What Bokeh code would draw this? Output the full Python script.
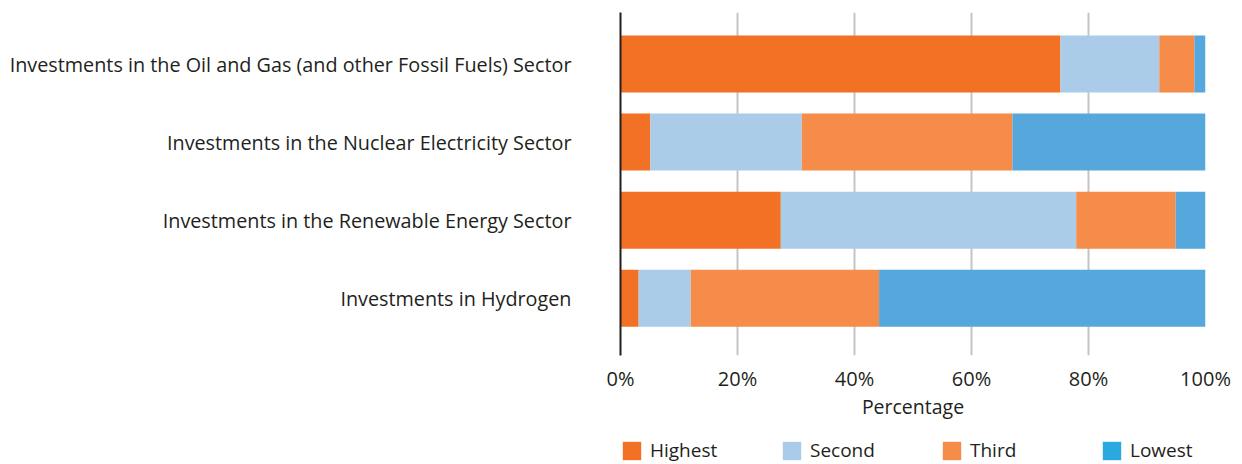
from bokeh.plotting import figure
from bokeh.layouts import column
from bokeh.models import (ColumnDataSource, FixedTicker, Legend, LegendItem,
                          Range1d)
from bokeh.embed import file_html
from bokeh.resources import INLINE

categories = [
    "Investments in the Oil and Gas (and other Fossil Fuels) Sector",
    "Investments in the Nuclear Electricity Sector",
    "Investments in the Renewable Energy Sector",
    "Investments in Hydrogen",
]
series = ["Highest", "Second", "Third", "Lowest"]
highest = [75.2, 5.1, 27.4, 3.1]
second = [16.9, 25.9, 50.5, 8.9]
third = [6.0, 36.0, 17.0, 32.2]
lowest = [1.9, 33.0, 5.1, 55.8]
ticks_x = [0, 20, 40, 60, 80, 100]

bar_colors = ["#F37124", "#AACCE9", "#F58C4A", "#56A7DC"]
legend_colors = ["#F37124", "#AACCE9", "#F58C4A", "#29A9E0"]

FONT = "Open Sans"
TXT = "#231F20"

ypos = [len(categories) - i for i in range(len(categories))]
source = ColumnDataSource(dict(y=ypos, Highest=highest, Second=second,
                               Third=third, Lowest=lowest))

p = figure(width=1242, height=422, output_backend="svg", toolbar_location=None,
           x_range=Range1d(0, 100), y_range=Range1d(0.266, 4.66),
           min_border_left=620, min_border_right=37, min_border_top=12,
           min_border_bottom=66)
p.outline_line_color = None
p.background_fill_color = "white"

p.hbar_stack(series, y="y", height=0.73, color=bar_colors, source=source,
             line_color=None)

# axes
p.xaxis.ticker = FixedTicker(ticks=ticks_x)
p.xaxis.major_label_overrides = {t: f"{t}%" for t in ticks_x}
p.xaxis.axis_line_color = None
p.xaxis.major_tick_line_color = None
p.xaxis.major_tick_out = 0
p.xaxis.major_tick_in = 0
p.xaxis.minor_tick_line_color = None
p.xaxis.major_label_standoff = 9
p.xaxis.major_label_text_font = FONT
p.xaxis.major_label_text_font_size = "20px"
p.xaxis.major_label_text_color = TXT
p.xaxis.axis_label = "Percentage"
p.xaxis.axis_label_text_font = FONT
p.xaxis.axis_label_text_font_size = "19.5px"
p.xaxis.axis_label_text_font_style = "normal"
p.xaxis.axis_label_text_color = TXT
p.xaxis.axis_label_standoff = -2

p.yaxis.ticker = FixedTicker(ticks=ypos)
p.yaxis.major_label_overrides = {y: c for y, c in zip(ypos, categories)}
p.yaxis.axis_line_color = TXT
p.yaxis.axis_line_width = 2
p.yaxis.major_tick_line_color = None
p.yaxis.major_tick_out = 0
p.yaxis.major_tick_in = 0
p.yaxis.minor_tick_line_color = None
p.yaxis.major_label_standoff = 49
p.yaxis.major_label_text_font = FONT
p.yaxis.major_label_text_font_size = "19.8px"
p.yaxis.major_label_text_color = TXT

p.xgrid.grid_line_color = "#C4C4C4"
p.xgrid.grid_line_width = 2
p.ygrid.grid_line_color = None

# legend strip below the chart; its frame starts where the legend starts
lg = figure(width=1242, height=42, output_backend="svg", toolbar_location=None,
            x_range=Range1d(0, 1), y_range=Range1d(0, 1),
            min_border_left=614, min_border_right=0, min_border_top=15,
            min_border_bottom=0)
lg.axis.visible = False
lg.grid.grid_line_color = None
lg.outline_line_color = None
lg.background_fill_alpha = 0

items = []
for name, col in zip(series, legend_colors):
    r = lg.rect(x=[-5], y=[-5], width=1, height=1, fill_color=col,
                line_color=None)
    items.append(LegendItem(label=name, renderers=[r]))

legend = Legend(items=items, orientation="horizontal", location="top_left",
                glyph_width=23, glyph_height=23, label_standoff=7,
                label_width=75, spacing=55, padding=0, margin=0,
                label_text_font=FONT, label_text_font_size="19px",
                label_text_color=TXT, border_line_color=None,
                background_fill_alpha=0, label_height=23)
lg.add_layout(legend, "center")

layout = column(p, lg, spacing=0)
open("out.html", "w").write(file_html(layout, INLINE))
